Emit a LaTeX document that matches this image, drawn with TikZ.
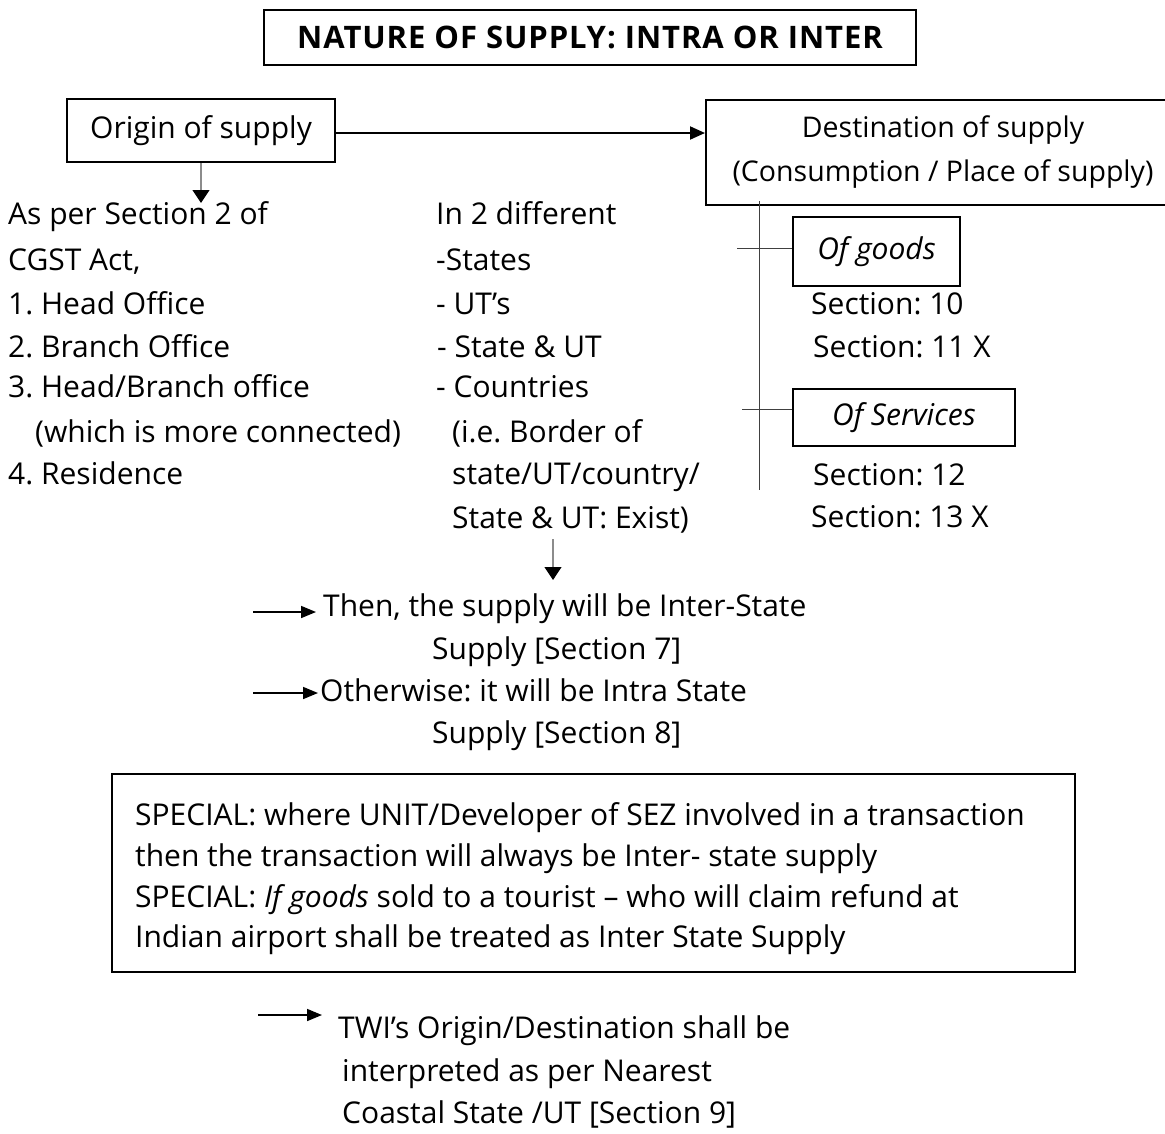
\documentclass[tikz,border=0pt]{standalone}
\usepackage{fontspec}
\setmainfont{Open Sans}
\usetikzlibrary{arrows.meta}

\newcommand{\bodyfont}{\fontsize{30}{36}\selectfont\frenchspacing}
\newcommand{\headfont}{\fontsize{31}{36}\selectfont\bfseries\addfontfeature{LetterSpace=3}}

\tikzset{
  txt/.style={anchor=base west, inner sep=0pt, font=\bodyfont},
  frame/.style={draw=black, line width=2pt, inner sep=0pt},
  boldarrow/.style={line width=2pt, -{Triangle[length=15pt,width=13pt]}},
  smallarrow/.style={line width=1.6pt, -{Triangle[length=15pt,width=12pt]}},
  greyarrow/.style={draw=black!45, line width=1.2pt, -{Triangle[length=13pt,width=17pt,color=black]}},
  thinline/.style={draw=black!75, line width=1pt},
}

\begin{document}
\begin{tikzpicture}[x=1pt, y=-1pt]
\useasboundingbox (0,0) rectangle (1165,1133);
\clip (0,0) rectangle (1165,1133);

% title
\node[frame, minimum width=652pt, minimum height=55pt, font=\headfont]
  (title) at (590,37.5) {NATURE OF SUPPLY: INTRA OR INTER};

% origin and destination
\node[frame, minimum width=268pt, minimum height=63pt, font=\bodyfont]
  (origin) at (201,130.5) {Origin of supply};
\node[frame, minimum width=474pt, minimum height=105pt, font=\fontsize{28.5}{44}\selectfont, align=center]
  (dest) at (943,152.5) {Destination of supply\\(Consumption / Place of supply)};
\draw[boldarrow] ([yshift=-2.5pt]origin.east) -- ([yshift=-2.5pt]origin.east -| dest.west);

% origin branch
\coordinate (origtip) at (201,203);
\draw[greyarrow] (origin.south) -- (origtip);

\node[txt] (l1) at (8,224) {As per Section 2 of};
\node[txt] (l2) at (8,270) {CGST Act,};
\node[txt] (l3) at (8,314) {1. Head Office};
\node[txt] (l4) at (8,357) {2. Branch Office};
\node[txt] (l5) at (8,397) {3. Head/Branch office};
\node[txt] (l6) at (35,442) {(which is more connected)};
\node[txt] (l7) at (8,484) {4. Residence};

% middle column
\node[txt] (m1) at (436,224) {In 2 different};
\node[txt] (m2) at (436,270) {-States};
\node[txt] (m3) at (436,314) {- UT’s};
\node[txt] (m4) at (437,357) {- State \& UT};
\node[txt] (m5) at (436,397) {- Countries};
\node[txt] (m6) at (452,442) {(i.e. Border of};
\node[txt] (m7) at (452,484) {state/UT/country/};
\node[txt] (m8) at (452,528) {State \& UT: Exist)};

\coordinate (mtop) at (553,539);
\coordinate (mtip) at (553,580);
\draw[greyarrow] (mtop) -- (mtip);

% destination branches
\coordinate (vtop) at (759,201);
\coordinate (vbot) at (759,490);
\draw[thinline] (vtop) -- (vbot);

\node[frame, minimum width=167pt, minimum height=69pt, font=\bodyfont\itshape]
  (goods) at (876.5,251.5) {Of goods};
\node[frame, minimum width=222pt, minimum height=57pt, font=\bodyfont\itshape]
  (services) at (904,417.5) {Of Services};
\coordinate (gtick) at (737,248);
\coordinate (stick) at (742,409);
\draw[thinline] (gtick) -- (gtick -| goods.west);
\draw[thinline] (stick) -- (stick -| services.west);

\node[txt] (s10) at (811,314) {Section: 10};
\node[txt] (s11) at (813,357) {Section: 11 X};
\node[txt] (s12) at (813,485) {Section: 12};
\node[txt] (s13) at (811,527) {Section: 13 X};

% result
\coordinate (a1) at (253,612);
\coordinate (a1t) at (316,612);
\coordinate (a2) at (253,693);
\coordinate (a2t) at (318,693);
\draw[smallarrow] (a1) -- (a1t);
\draw[smallarrow] (a2) -- (a2t);
\node[txt] (r1) at (323,616) {Then, the supply will be Inter-State};
\node[txt] (r2) at (432,659) {Supply [Section 7]};
\node[txt] (r3) at (320,701) {Otherwise: it will be Intra State};
\node[txt] (r4) at (432,743) {Supply [Section 8]};

% special cases
\node[frame, minimum width=963pt, minimum height=198pt] (special) at (593.5,873) {};
\node[txt] (sp1) at (135,825) {SPECIAL: where UNIT/Developer of SEZ involved in a transaction};
\node[txt] (sp2) at (135,866) {then the transaction will always be Inter- state supply};
\node[txt] (sp3) at (135,907) {SPECIAL: {\itshape If goods} sold to a tourist – who will claim refund at};
\node[txt] (sp4) at (135,947) {Indian airport shall be treated as Inter State Supply};

% territorial waters
\coordinate (b1) at (258,1015);
\coordinate (b1t) at (322,1015);
\draw[smallarrow] (b1) -- (b1t);
\node[txt] (t1) at (338,1038) {TWI’s Origin/Destination shall be};
\node[txt] (t2) at (342,1081) {interpreted as per Nearest};
\node[txt] (t3) at (342,1123) {Coastal State /UT [Section 9]};
\end{tikzpicture}
\end{document}
